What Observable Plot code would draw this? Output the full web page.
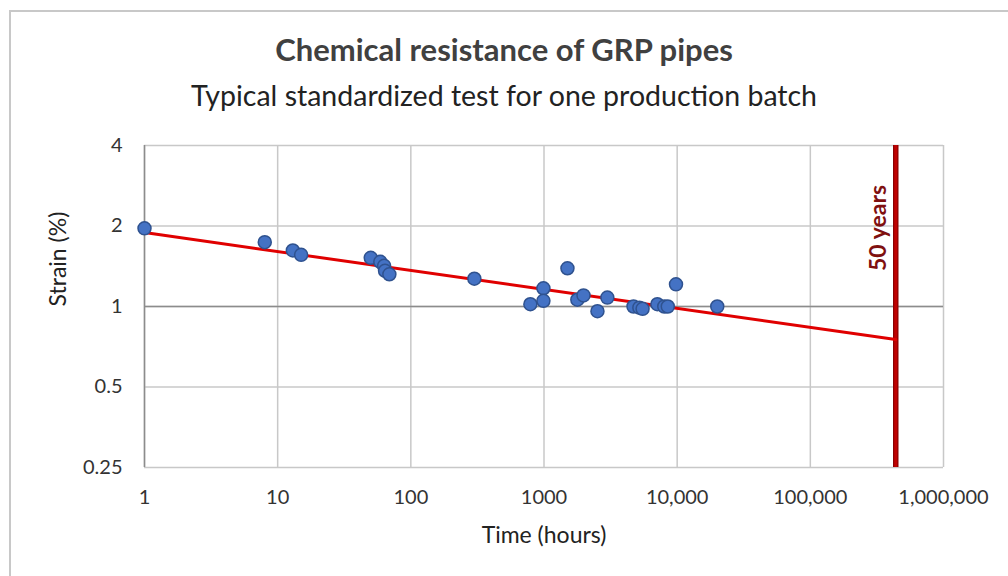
<!DOCTYPE html>
<html>
<head>
<meta charset="utf-8">
<script src="https://cdn.jsdelivr.net/npm/d3@7"></script>
<script src="https://cdn.jsdelivr.net/npm/@observablehq/plot@0.6"></script>
<style>
  html, body { margin: 0; padding: 0; background: #fff; }
  #wrap { position: relative; width: 1008px; height: 576px; overflow: hidden; font-family: Lato, "Open Sans", sans-serif; }
  #frame { position: absolute; left: 9px; top: 10px; width: 1100px; height: 700px; border: 2px solid #c8c8c8; box-sizing: border-box; }
  #title { position: absolute; left: 0; width: 1008px; top: 30px; text-align: center; font-size: 31px; font-weight: bold; color: #404040; line-height: 38px; }
  #subtitle { position: absolute; left: 0; width: 1008px; top: 77px; text-align: center; font-size: 28.5px; color: #222; line-height: 36px; }
  #chart { position: absolute; left: 0; top: 0; }
</style>
</head>
<body>
<div id="wrap">
  <div id="frame"></div>
  <div id="chart"></div>
  <div id="title">Chemical resistance of GRP pipes</div>
  <div id="subtitle">Typical standardized test for one production batch</div>
</div>
<script>
// Measured data: time (hours) and strain (%)
const timeHours = [1, 8, 13, 15, 50, 59, 63, 64, 69, 300, 790, 990, 990, 1500, 1780, 1980, 2520, 2990, 4700, 5200, 5500, 7100, 8000, 8500, 9800, 20000];
const strainPct = [1.96, 1.74, 1.62, 1.56, 1.52, 1.47, 1.42, 1.36, 1.32, 1.27, 1.02, 1.17, 1.05, 1.39, 1.06, 1.10, 0.96, 1.08, 1.0, 0.99, 0.98, 1.02, 1.0, 1.0, 1.21, 1.0];

// Regression (fit) line end points
const fitTime = [1, 438000];
const fitStrain = [1.89, 0.753];

// 50-year marker (hours)
const fiftyYearsHours = [438000];
const fiftyYearsLabel = ["50 years"];

// Axis titles
const xTitle = ["Time (hours)"];
const yTitle = ["Strain (%)"];

// Tick values and labels
const xTicks = [1, 10, 100, 1000, 10000, 100000, 1000000];
const xTickLabels = ["1", "10", "100", "1000", "10,000", "100,000", "1,000,000"];
const yTicks = [0.25, 0.5, 1, 2, 4];
const yTickLabels = ["0.25", "0.5", "1", "2", "4"];

const points = timeHours.map((t, i) => ({t, s: strainPct[i]}));
const fit = fitTime.map((t, i) => ({t, s: fitStrain[i]}));

const font = "Lato, 'Open Sans', sans-serif";

const chart = Plot.plot({
  width: 1008,
  height: 576,
  marginLeft: 144,
  marginRight: 65,
  marginTop: 145,
  marginBottom: 109,
  style: {fontFamily: font, background: "transparent", overflow: "visible"},
  x: {type: "log", domain: [1, 1e6], ticks: xTicks},
  y: {type: "log", domain: [0.25, 4], ticks: yTicks},
  marks: [
    Plot.gridX(xTicks, {stroke: "#c8c8c8", strokeOpacity: 1, strokeWidth: 1.5}),
    Plot.gridY(yTicks, {stroke: "#c8c8c8", strokeOpacity: 1, strokeWidth: 1.5}),
    Plot.ruleY([1], {stroke: "#8c8c8c", strokeWidth: 1.5}),
    Plot.ruleX([1], {stroke: "#8c8c8c", strokeWidth: 1.5}),
    Plot.axisX({
      ticks: xTicks, tickSize: 0, tickPadding: 22,
      tickFormat: (d) => xTickLabels[xTicks.indexOf(d)],
      fontSize: 20, fill: "#333", label: null
    }),
    Plot.axisY({
      ticks: yTicks, tickSize: 0, tickPadding: 22,
      tickFormat: (d) => yTickLabels[yTicks.indexOf(d)],
      fontSize: 20, fill: "#333", label: null
    }),
    Plot.text(xTitle, {frameAnchor: "bottom", dy: 75, text: (d) => d, fontSize: 23, fill: "#222"}),
    Plot.text(yTitle, {frameAnchor: "left", dx: -86, rotate: -90, text: (d) => d, fontSize: 23, fill: "#222"}),
    Plot.ruleX(fiftyYearsHours, {stroke: "#8b0000", strokeWidth: 5.5}),
    Plot.ruleX(fiftyYearsHours, {stroke: "#c00000", strokeWidth: 3}),
    Plot.line(fit, {x: "t", y: "s", stroke: "#e00000", strokeWidth: 3}),
    Plot.dot(points, {x: "t", y: "s", r: 6.5, fill: "#4472c4", stroke: "#2f528f", strokeWidth: 1.5, fillOpacity: 1}),
    Plot.text(fiftyYearsLabel, {
      x: fiftyYearsHours, y: [2], text: (d) => d, rotate: -90,
      dx: -17, dy: 2, fontSize: 23, fontWeight: "bold", fill: "#7f1010", textAnchor: "middle"
    })
  ]
});
document.getElementById("chart").appendChild(chart);
</script>
</body>
</html>
